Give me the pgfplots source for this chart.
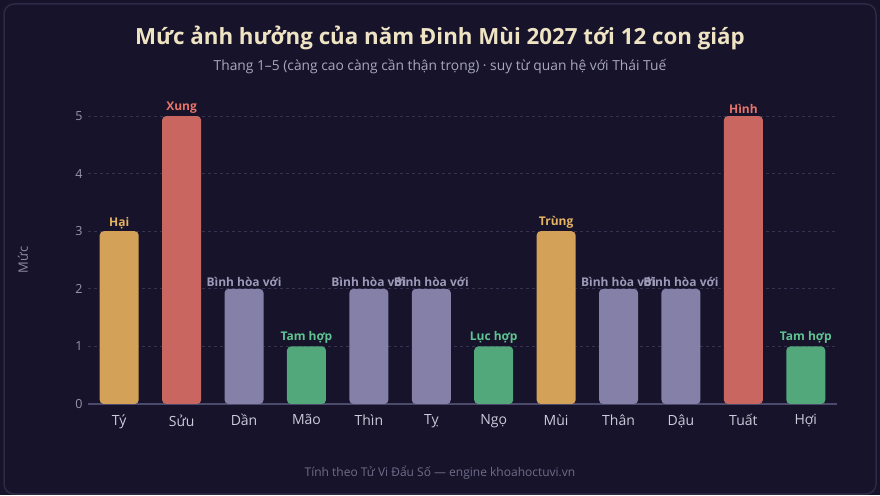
\documentclass[border=0pt]{standalone}
\usepackage{pgfplots}
\pgfplotsset{compat=1.18}
\usepackage{fontspec}
\setmainfont{Open Sans}
\definecolor{bg}{HTML}{16132A}
\definecolor{frame}{HTML}{2C2A46}
\definecolor{titlec}{HTML}{EEE3C3}
\definecolor{subc}{HTML}{A9A7C2}
\definecolor{footc}{HTML}{6F6D8A}
\definecolor{gridc}{HTML}{35334F}
\definecolor{axisc}{HTML}{4C4A6A}
\definecolor{xtickc}{HTML}{CDCBDA}
\definecolor{ytickc}{HTML}{9896B0}
\definecolor{orangec}{HTML}{D4A158}
\definecolor{redc}{HTML}{C9665F}
\definecolor{grayc}{HTML}{8480A8}
\definecolor{greenc}{HTML}{53A87B}
\definecolor{orangel}{HTML}{E6B462}
\definecolor{redl}{HTML}{E8756A}
\definecolor{grayl}{HTML}{9C9AB8}
\definecolor{greenl}{HTML}{5FC491}
\begin{document}
\begin{tikzpicture}[x=1pt,y=1pt]
\fill[bg] (0,0) rectangle (880,495);
\draw[frame, line width=1.5pt, rounded corners=10pt] (4,1) rectangle (876,491);
\node[text=titlec, font=\fontsize{22.3}{26}\selectfont\bfseries] at (440,457) {Mức ảnh hưởng của năm Đinh Mùi 2027 tới 12 con giáp};
\node[text=subc, font=\fontsize{13.8}{16}\selectfont] at (440,428) {Thang 1–5 (càng cao càng cần thận trọng) · suy từ quan hệ với Thái Tuế};
\node[text=footc, font=\fontsize{12}{15}\selectfont] at (440,22) {Tính theo Tử Vi Đẩu Số — engine khoahoctuvi.vn};
\node[text=footc!80!white, font=\fontsize{13}{16}\selectfont, rotate=90] at (23,235) {Mức};
\begin{axis}[
  at={(88pt,91pt)}, anchor=south west,
  scale only axis, width=749pt, height=311pt,
  xmin=-0.5, xmax=11.5, ymin=0, ymax=5.4,
  ybar, bar width=39pt, bar shift=0pt,
  axis line style={draw=none},
  axis x line*=bottom, axis y line*=left,
  xtick={0,...,11},
  xticklabels={Tý,Sửu,Dần,Mão,Thìn,Tỵ,Ngọ,Mùi,Thân,Dậu,Tuất,Hợi},
  ytick={0,1,2,3,4,5},
  major tick length=0pt,
  x tick label style={text=xtickc, font=\fontsize{14}{16}\selectfont, yshift=-7pt},
  y tick label style={text=ytickc, font=\fontsize{12.5}{15}\selectfont, xshift=-2pt},
  /pgf/number format/assume math mode=true,
  ymajorgrids, grid style={gridc, dashed, line width=0.8pt},
  nodes near coords, point meta=explicit symbolic,
  every node near coord/.append style={font=\fontsize{12}{15}\selectfont\bfseries, anchor=south, yshift=-1pt},
  clip=false,
]
\draw[axisc, line width=1.5pt] (axis cs:-0.5,0) -- (axis cs:11.5,0);
\addplot[fill=orangec, draw=none, rounded corners=4pt, every node near coord/.append style={text=orangel}] coordinates {(0,3) [Hại] (7,3) [Trùng]};
\addplot[fill=redc, draw=none, rounded corners=4pt, every node near coord/.append style={text=redl}] coordinates {(1,5) [Xung] (10,5) [Hình]};
\addplot[fill=grayc, draw=none, rounded corners=4pt, every node near coord/.append style={text=grayl}] coordinates {(2,2) [Bình hòa với] (4,2) [Bình hòa với] (5,2) [Bình hòa với] (8,2) [Bình hòa với] (9,2) [Bình hòa với]};
\addplot[fill=greenc, draw=none, rounded corners=4pt, every node near coord/.append style={text=greenl}] coordinates {(3,1) [Tam hợp] (6,1) [Lục hợp] (11,1) [Tam hợp]};
\end{axis}
\pgfresetboundingbox
\useasboundingbox (0,0) rectangle (880,495);
\end{tikzpicture}
\end{document}
